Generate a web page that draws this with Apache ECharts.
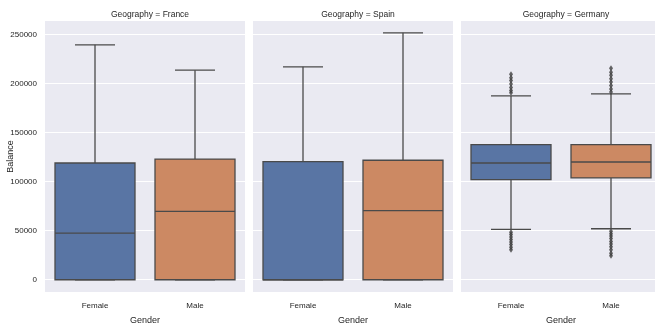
<!DOCTYPE html>
<html>
<head>
<meta charset="utf-8">
<script src="https://cdn.jsdelivr.net/npm/echarts@6/dist/echarts.min.js"></script>
<style>
  html, body { margin: 0; padding: 0; background: #fff; }
  #chart { width: 655px; height: 326px; }
</style>
</head>
<body>
<div id="chart"></div>
<script>
// --- Données ---
const geographies = ['France', 'Spain', 'Germany'];
const genders = ['Female', 'Male'];
const yTicks = [0, 50000, 100000, 150000, 200000, 250000];

// [min, Q1, median, Q3, max] par genre
const franceBoxes = [
    [0, 0, 47600, 119000, 239500],
    [0, 0, 69700, 123000, 213600]
];
const spainBoxes = [
    [0, 0, 0, 120400, 217000],
    [0, 0, 70400, 121800, 251700]
];
const germanyBoxes = [
    [51300, 102000, 119000, 137800, 187400],
    [52000, 103800, 120000, 137800, 189500]
];

// points aberrants Allemagne
const germanyFemaleOutliers = [190500, 193000, 196000, 199500, 203000, 206000, 209500, 48500, 46000, 43500, 41000, 38500, 36000, 33000, 30500];
const germanyMaleOutliers = [191500, 194500, 198000, 201500, 205000, 208500, 211500, 215500, 49500, 47000, 44500, 42000, 39000, 36500, 33500, 30500, 27000, 24500];

const allBoxes = [franceBoxes, spainBoxes, germanyBoxes];
const boxColors = ['#5975a4', '#cc8963'];
const lineColor = '#4a4a4a';

const chart = echarts.init(document.getElementById('chart'));
const font = '"Liberation Sans Narrow", "Liberation Sans", Arial, sans-serif';

const gridLefts = [45, 253, 461];
const gridW = 200;

function renderBox(params, api) {
    const cat = api.value(0);
    const vals = [api.value(1), api.value(2), api.value(3), api.value(4), api.value(5)];
    const pts = vals.map(v => api.coord([cat, v]));
    const x = pts[0][0];
    const band = api.size([1, 0])[0];
    const bw = band * 0.8;
    const cw = bw / 2;
    const color = boxColors[cat];
    const lineStyle = { stroke: lineColor, lineWidth: 1.3 };
    return {
        type: 'group',
        children: [
            { type: 'line', shape: { x1: x, y1: pts[3][1], x2: x, y2: pts[4][1] }, style: lineStyle },
            { type: 'line', shape: { x1: x, y1: pts[1][1], x2: x, y2: pts[0][1] }, style: lineStyle },
            { type: 'line', shape: { x1: x - cw / 2, y1: pts[4][1], x2: x + cw / 2, y2: pts[4][1] }, style: lineStyle },
            { type: 'line', shape: { x1: x - cw / 2, y1: pts[0][1], x2: x + cw / 2, y2: pts[0][1] }, style: lineStyle },
            { type: 'rect', shape: { x: x - bw / 2, y: pts[3][1], width: bw, height: pts[1][1] - pts[3][1] },
              style: { fill: color, stroke: lineColor, lineWidth: 1.3 } },
            { type: 'line', shape: { x1: x - bw / 2, y1: pts[2][1], x2: x + bw / 2, y2: pts[2][1] }, style: lineStyle }
        ]
    };
}

const grids = [], xAxes = [], yAxes = [], series = [], titles = [];

geographies.forEach((geo, i) => {
    grids.push({
        left: gridLefts[i], top: 21, width: gridW, height: 271,
        outerBoundsMode: 'none', containLabel: false,
        show: true, backgroundColor: '#eaeaf2', borderWidth: 0
    });
    titles.push({
        text: 'Geography = ' + geo,
        left: gridLefts[i] + gridW / 2, top: 5, textAlign: 'center',
        textStyle: { fontFamily: font, fontSize: 8.5, fontWeight: 'normal', color: '#262626' }
    });
    xAxes.push({
        type: 'category', gridIndex: i, data: genders,
        name: 'Gender', nameLocation: 'middle', nameGap: 24, nameMoveOverlap: false,
        nameTextStyle: { fontFamily: font, fontSize: 9, color: '#262626' },
        axisLine: { show: false }, axisTick: { show: false },
        axisLabel: { fontFamily: font, fontSize: 8, color: '#262626', margin: 10 },
        splitLine: { show: false }
    });
    yAxes.push({
        type: 'value', gridIndex: i, min: -12500, max: 263750,
        name: i === 0 ? 'Balance' : '', nameLocation: 'middle', nameGap: 30, nameMoveOverlap: false,
        nameTextStyle: { fontFamily: font, fontSize: 9, color: '#262626' },
        axisLine: { show: false },
        axisTick: { show: false, customValues: yTicks },
        axisLabel: {
            show: i === 0, customValues: yTicks, formatter: v => String(v),
            fontFamily: font, fontSize: 8, color: '#262626', margin: 8
        },
        splitLine: { show: true, lineStyle: { color: '#ffffff', width: 1.2 } }
    });
    series.push({
        type: 'custom', xAxisIndex: i, yAxisIndex: i,
        renderItem: renderBox,
        encode: { x: 0, y: [1, 2, 3, 4, 5] },
        data: allBoxes[i].map((b, k) => [k, ...b]),
        silent: true
    });
});

series.push({
    type: 'scatter', xAxisIndex: 2, yAxisIndex: 2,
    symbol: 'diamond', symbolSize: [4, 6],
    itemStyle: { color: '#3d3d3d' },
    data: germanyFemaleOutliers.map(v => ['Female', v]).concat(germanyMaleOutliers.map(v => ['Male', v])),
    silent: true
});

chart.setOption({
    animation: false,
    backgroundColor: '#ffffff',
    title: titles,
    grid: grids,
    xAxis: xAxes,
    yAxis: yAxes,
    series: series
});
</script>
</body>
</html>
